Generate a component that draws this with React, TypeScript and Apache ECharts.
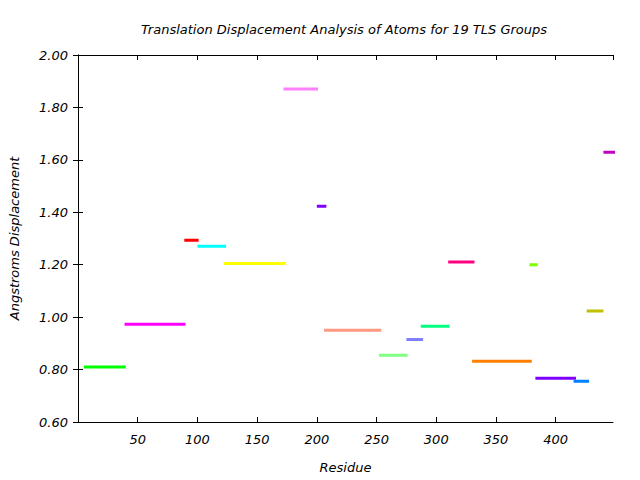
import React, { useEffect, useRef } from "react";
import * as echarts from "echarts";

const starts = [5, 39, 89, 100, 122, 172, 200, 206, 252, 275, 287, 310, 330, 378, 383, 415, 426, 440];
const ends = [40, 90, 101, 124, 174, 201, 208, 254, 276, 289, 311, 332, 380, 385, 417, 428, 440, 450];
const values = [0.81, 0.973, 1.293, 1.27, 1.205, 1.87, 1.423, 0.95, 0.855, 0.915, 0.965, 1.21, 0.832, 1.2, 0.767, 0.755, 1.023, 1.629];
const colors = [
  "#00ff00", "#ff00ff", "#ff0000", "#00ffff", "#ffff00", "#ff80ff", "#8000ff", "#ff9980", "#80ff80",
  "#8080ff", "#00ff80", "#ff0080", "#ff8000", "#80ff00", "#8000ff", "#0080ff", "#c0c000", "#c000c0",
];
const xTicks = [50, 100, 150, 200, 250, 300, 350, 400];
const yTicks = [0.6, 0.8, 1.0, 1.2, 1.4, 1.6, 1.8, 2.0];

const FONT = "DejaVu Sans";

export default function App() {
  const ref = useRef<HTMLDivElement>(null);
  useEffect(() => {
    const chart = echarts.init(ref.current!, null, { renderer: "svg" });
    const txt = { fontFamily: FONT, fontStyle: "italic", fontSize: 13, color: "#000" };
    const series = starts.map((s, i) => ({
      type: "line",
      data: [[s, values[i]], [ends[i], values[i]]],
      showSymbol: false,
      symbol: "none",
      lineStyle: { color: colors[i], width: 3 },
      clip: true,
      silent: true,
    }));
    chart.setOption({
      animation: false,
      backgroundColor: "#fff",
      title: {
        text: "Translation Displacement Analysis of Atoms for 19 TLS Groups",
        left: 339,
        textAlign: "center",
        top: 18,
        textStyle: { ...txt, fontWeight: "normal" },
      },
      grid: { left: 76, right: 27, top: 55, bottom: 58, show: false },
      xAxis: [
        {
          type: "value",
          min: 0,
          max: 448,
          interval: 50,
          position: "bottom",
          name: "Residue",
          nameLocation: "middle",
          nameGap: 39,
          nameTextStyle: txt,
          axisLine: { show: true, lineStyle: { color: "#000", width: 1 } },
          axisTick: { show: true, inside: true, length: 5, lineStyle: { color: "#000" } },
          axisLabel: {
            ...txt,
            margin: 11,
            showMinLabel: false,
            showMaxLabel: false,
            formatter: (v: number) => (xTicks.includes(v) ? String(v) : ""),
          },
          splitLine: { show: false },
        },
        {
          type: "value",
          min: 0,
          max: 448,
          interval: 50,
          position: "top",
          axisLine: { show: true, lineStyle: { color: "#000", width: 1 } },
          axisTick: { show: true, inside: true, length: 5, lineStyle: { color: "#000" } },
          axisLabel: { show: false },
          splitLine: { show: false },
        },
      ],
      yAxis: [
        {
          type: "value",
          min: 0.6,
          max: 2.0,
          interval: 0.2,
          position: "left",
          name: "Angstroms Displacement",
          nameLocation: "middle",
          nameGap: 57,
          nameRotate: 90,
          nameTextStyle: txt,
          axisLine: { show: true, lineStyle: { color: "#000", width: 1 } },
          axisTick: { show: true, inside: true, length: 5, lineStyle: { color: "#000" } },
          axisLabel: {
            ...txt,
            margin: 10,
            formatter: (v: number) => {
              const r = Math.round(v * 100) / 100;
              return yTicks.some((t) => Math.abs(t - r) < 1e-6) ? r.toFixed(2) : "";
            },
          },
          splitLine: { show: false },
        },
        {
          type: "value",
          min: 0.6,
          max: 2.0,
          interval: 0.2,
          position: "right",
          axisLine: { show: true, lineStyle: { color: "#000", width: 1 } },
          axisTick: { show: true, inside: true, length: 5, lineStyle: { color: "#000" } },
          axisLabel: { show: false },
          splitLine: { show: false },
        },
      ],
      series,
    });
    return () => chart.dispose();
  }, []);
  return <div ref={ref} style={{ width: 640, height: 480, position: "absolute", left: 0, top: 0 }} />;
}
